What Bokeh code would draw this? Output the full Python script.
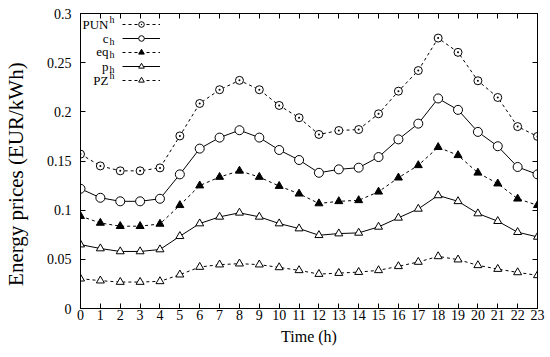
from bokeh.plotting import figure
from bokeh.models import (Range1d, LinearAxis, FixedTicker, Legend, LegendItem, Label,
                          CustomJSTickFormatter)
from bokeh.embed import file_html
from bokeh.resources import INLINE

hours = list(range(24))
pun = [0.157, 0.145, 0.140, 0.140, 0.143, 0.1755, 0.2085, 0.2225, 0.232, 0.2225, 0.2065, 0.194,
       0.177, 0.181, 0.182, 0.198, 0.221, 0.242, 0.275, 0.2605, 0.2316, 0.2146, 0.185, 0.175]
c_h = [0.1218, 0.1126, 0.109, 0.109, 0.1116, 0.1364, 0.1626, 0.1738, 0.1813, 0.1738, 0.1612, 0.151,
       0.138, 0.1415, 0.1432, 0.154, 0.172, 0.188, 0.2136, 0.202, 0.1796, 0.165, 0.1439, 0.1364]
eq_h = [0.0939, 0.087, 0.0837, 0.0837, 0.086, 0.105, 0.125, 0.1337, 0.140, 0.1337, 0.1245, 0.1167,
        0.1068, 0.109, 0.110, 0.1187, 0.133, 0.1456, 0.164, 0.1558, 0.138, 0.127, 0.1116, 0.105]
p_h = [0.065, 0.061, 0.058, 0.058, 0.060, 0.0735, 0.0864, 0.0932, 0.0973, 0.0932, 0.0864, 0.0813,
       0.0745, 0.0762, 0.0769, 0.083, 0.0922, 0.1013, 0.115, 0.109, 0.0966, 0.0888, 0.0776, 0.0728]
pz = [0.0303, 0.0283, 0.0269, 0.0269, 0.0276, 0.0344, 0.0422, 0.0446, 0.0456, 0.0446, 0.0418, 0.0388,
      0.035, 0.036, 0.037, 0.0388, 0.0429, 0.0473, 0.053, 0.0497, 0.0439, 0.0401, 0.0367, 0.0337]
y_ticks = [0, 0.05, 0.1, 0.15, 0.2, 0.25, 0.3]
legend_base = ["PUN", "c", "eq", "p", "PZ"]
legend_sup = [True, False, False, False, True]

FONT = "Liberation Serif"

p = figure(frame_width=457, frame_height=295, output_backend="svg", toolbar_location=None,
           x_range=Range1d(0, 23), y_range=Range1d(0, 0.3),
           min_border_left=79, min_border_right=14, min_border_top=13, min_border_bottom=49)
p.background_fill_color = "white"
p.border_fill_color = "white"
p.grid.visible = False
p.outline_line_color = "black"
p.outline_line_width = 1
p.outline_line_alpha = 1

def style_axis(ax):
    ax.axis_line_color = "black"
    ax.major_tick_in = 5
    ax.major_tick_out = 0
    ax.minor_tick_line_color = None
    ax.major_tick_line_color = "black"
    ax.major_label_text_font = FONT
    ax.major_label_text_color = "black"
    ax.axis_label_text_font = FONT
    ax.axis_label_text_font_style = "normal"
    ax.axis_label_text_color = "black"

xt = FixedTicker(ticks=hours)
yt = FixedTicker(ticks=y_ticks)
p.xaxis.ticker = xt
p.yaxis.ticker = yt
style_axis(p.xaxis[0])
style_axis(p.yaxis[0])
p.xaxis.major_label_text_font_size = "14px"
p.yaxis.major_label_text_font_size = "14px"
p.xaxis.major_label_standoff = 1
p.yaxis.major_label_standoff = 9
p.xaxis.axis_label = "Time (h)"
p.xaxis.axis_label_text_font_size = "16px"
p.xaxis.axis_label_standoff = 5
# trailing no-break spaces shift the centred title towards the bottom, as in the original
p.yaxis.axis_label = "Energy prices (EUR/kWh)" + "\u00a0" * 5
p.yaxis.axis_label_text_font_size = "21px"
p.yaxis.axis_label_standoff = 16
p.yaxis.formatter.use_scientific = False

blank = CustomJSTickFormatter(code="return ''")
top = LinearAxis(ticker=xt, formatter=blank)
right = LinearAxis(ticker=yt, formatter=blank)
style_axis(top)
style_axis(right)
top.major_label_standoff = 5
right.major_label_standoff = 4
p.add_layout(top, "above")
p.add_layout(right, "right")

DASH = "3 3"
series = [
    (pun, "dashed", "circle_dot", 8, "white"),
    (c_h, "solid", "circle", 9, "white"),
    (eq_h, "dashed", "triangle", 8, "black"),
    (p_h, "solid", "triangle", 8, "white"),
    (pz, "dashed", "triangle", 8, "white"),
]
items = []
for vals, dash, marker, size, fill in series:
    ld = DASH if dash == "dashed" else "solid"
    r1 = p.line(hours, vals, line_color="black", line_width=1, line_dash=ld)
    r2 = p.scatter(hours, vals, marker=marker, size=size, line_color="black", line_width=1,
                   fill_color=fill)
    items.append(LegendItem(label="", renderers=[r1, r2]))

legend = Legend(items=items, location=(42, 221), glyph_width=38, glyph_height=14,
                label_width=0, label_height=14, label_standoff=0, spacing=0, padding=0, margin=0,
                border_line_color=None, background_fill_alpha=0,
                label_text_font=FONT, label_text_font_size="9px")
p.add_layout(legend, "center")

row_y = [284, 270, 257, 242.5, 228]
for name, sup, yy in zip(legend_base, legend_sup, row_y):
    p.add_layout(Label(x=28, y=yy, x_units="screen", y_units="screen", text=name,
                       text_align="right", text_baseline="middle", text_font=FONT,
                       text_font_size="13px", text_color="black"))
    p.add_layout(Label(x=29, y=yy + (5 if sup else -3), x_units="screen", y_units="screen",
                       text="h", text_align="left", text_baseline="middle", text_font=FONT,
                       text_font_size="10px", text_color="black"))

open("out.html", "w").write(file_html(p, INLINE))
